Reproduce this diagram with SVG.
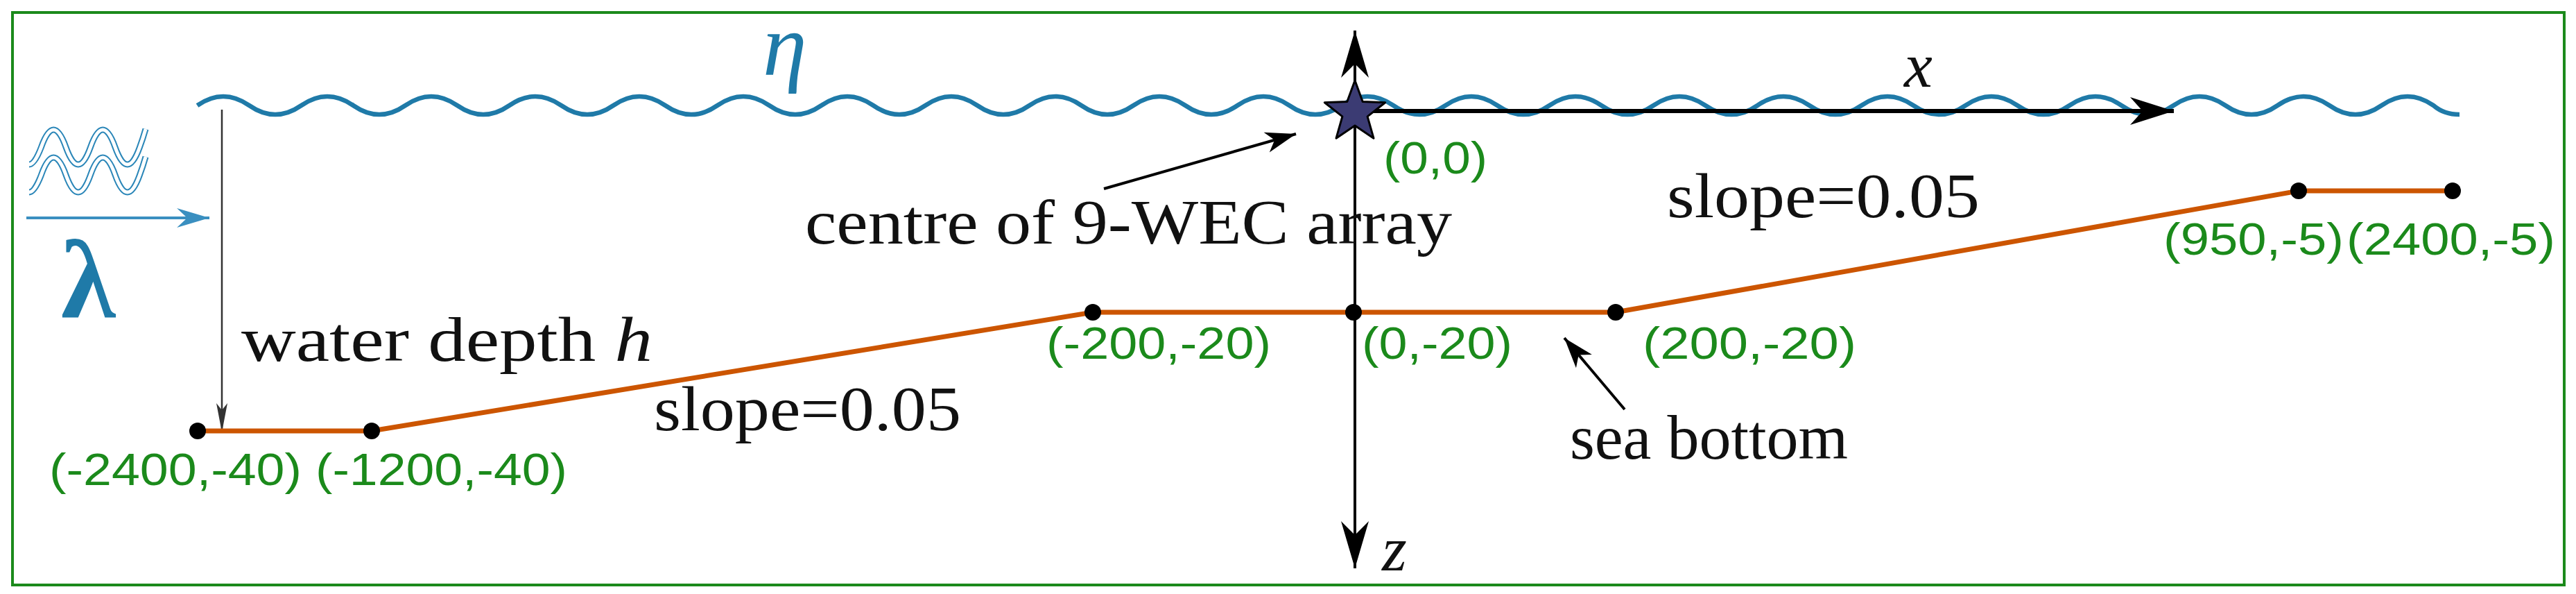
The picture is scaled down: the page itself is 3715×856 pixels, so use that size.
<svg xmlns="http://www.w3.org/2000/svg" width="3715" height="856" viewBox="0 0 3715 856">
<style>
.blk{font-family:"Liberation Serif","DejaVu Serif",serif;font-size:92px;fill:#111}
.it{font-style:italic}
.grn{font-family:"Liberation Sans","DejaVu Sans",sans-serif;font-size:64px;fill:#1b8a1b}
.dot{fill:#000}
</style>
<defs>
<marker id="axh" markerUnits="userSpaceOnUse" markerWidth="80" markerHeight="50" viewBox="-70 -25 72 50" refX="0" refY="0" orient="auto-start-reverse"><path d="M0,0 L-68,-20 L-48,0 L-68,20 Z" fill="#000"/></marker>
<marker id="xh" markerUnits="userSpaceOnUse" markerWidth="80" markerHeight="50" viewBox="-70 -25 72 50" refX="0" refY="0" orient="auto"><path d="M0,0 L-63,-20 L-45,0 L-63,20 Z" fill="#000"/></marker>
<marker id="ah" markerUnits="userSpaceOnUse" markerWidth="50" markerHeight="40" viewBox="-48 -20 50 40" refX="0" refY="0" orient="auto"><path d="M0,0 L-44,-15 L-32,0 L-44,15 Z" fill="#000"/></marker>
<marker id="dh" markerUnits="userSpaceOnUse" markerWidth="50" markerHeight="30" viewBox="-48 -15 50 30" refX="0" refY="0" orient="auto"><path d="M0,0 L-42,-8 L-32,0 L-42,8 Z" fill="#333"/></marker>
<marker id="bh" markerUnits="userSpaceOnUse" markerWidth="60" markerHeight="40" viewBox="-52 -20 54 40" refX="0" refY="0" orient="auto"><path d="M0,0 L-47,-14 L-32,0 L-47,14 Z" fill="#3a8fc0"/></marker>
</defs>
<rect x="0" y="0" width="3715" height="856" fill="#fff"/>
<rect x="18" y="18" width="3680" height="825" fill="none" stroke="#1b8a1b" stroke-width="4"/>

<g id="surface">
<path d="M284.5 152 q37.5 -26 75 0 t75 0 t75 0 t75 0 t75 0 t75 0 t75 0 t75 0 t75 0 t75 0 t75 0 t75 0 t75 0 t75 0 t75 0 t75 0 t75 0 t75 0 t75 0 t75 0 t75 0 t75 0 t75 0 t75 0 t75 0 t75 0 t75 0 t75 0 t75 0 t75 0 t75 0 t75 0 t75 0 t75 0 t75 0 t75 0 t75 0 t75 0 t75 0 t75 0 t75 0 t75 0 t75 0 q15 13 37.5 13" fill="none" stroke="#1f7aa8" stroke-width="6.5"/>
<text x="1100" y="108" font-family="Liberation Serif, DejaVu Serif, serif" font-style="italic" font-size="128" fill="#1f7aa8">η</text>
</g>

<g id="wave-icon">
<path d="M42 237 Q50 237 59.5 212 q17.75 -50 35.5 0 t35.5 0 t35.5 0 t35.5 0 Q206 200 210 186" fill="none" stroke="#2a86b8" stroke-width="9"/>
<path d="M42 237 Q50 237 59.5 212 q17.75 -50 35.5 0 t35.5 0 t35.5 0 t35.5 0 Q206 200 210 186" fill="none" stroke="#fff" stroke-width="5"/>
<path d="M42 277 Q50 277 59.5 252 q17.75 -50 35.5 0 t35.5 0 t35.5 0 t35.5 0 Q206 240 210 226" fill="none" stroke="#2a86b8" stroke-width="9"/>
<path d="M42 277 Q50 277 59.5 252 q17.75 -50 35.5 0 t35.5 0 t35.5 0 t35.5 0 Q206 240 210 226" fill="none" stroke="#fff" stroke-width="5"/>
<text x="88" y="457" font-family="Liberation Serif, DejaVu Serif, serif" font-weight="bold" font-size="160" fill="#1f7aa8">λ</text>
</g>

<g id="connectors">
<line x1="38" y1="314" x2="302" y2="314" stroke="#3a8fc0" stroke-width="4" marker-end="url(#bh)"/>
<line x1="320" y1="158" x2="320" y2="623" stroke="#333" stroke-width="2.5" marker-end="url(#dh)"/>
<line x1="1954" y1="44" x2="1954" y2="819" stroke="#000" stroke-width="4" marker-start="url(#axh)" marker-end="url(#axh)"/>
<line x1="1954" y1="160" x2="3135" y2="160" stroke="#000" stroke-width="6" marker-end="url(#xh)"/>
<line x1="1592" y1="272" x2="1869" y2="193" stroke="#000" stroke-width="4" marker-end="url(#ah)"/>
<line x1="2343" y1="590" x2="2256" y2="487" stroke="#000" stroke-width="4" marker-end="url(#ah)"/>
</g>

<g id="seabed">
<polyline points="285,621 536,621 1576,450 1952,450 2330,450 3315,275 3537,275" fill="none" stroke="#cc5500" stroke-width="7"/>
<circle class="dot" cx="285" cy="621" r="12"/>
<circle class="dot" cx="536" cy="621" r="12"/>
<circle class="dot" cx="1576" cy="450" r="12"/>
<circle class="dot" cx="1952" cy="450" r="12"/>
<circle class="dot" cx="2330" cy="450" r="12"/>
<circle class="dot" cx="3315" cy="275" r="12"/>
<circle class="dot" cx="3537" cy="275" r="12"/>
</g>

<g id="origin-star">
<polygon points="1954,116 1965.2,146.6 1997.7,147.8 1972.1,167.9 1981,199.2 1954,181 1927,199.2 1935.9,167.9 1910.3,147.8 1942.8,146.6" fill="#3b3b73" stroke="#000" stroke-width="3" stroke-linejoin="round"/>
</g>

<g id="labels">
<text class="blk" x="348" y="520" textLength="593" lengthAdjust="spacingAndGlyphs">water depth <tspan class="it">h</tspan></text>
<text class="blk" x="1161" y="351" textLength="933" lengthAdjust="spacingAndGlyphs">centre of 9-WEC array</text>
<text class="blk" x="943" y="620" textLength="443" lengthAdjust="spacingAndGlyphs">slope=0.05</text>
<text class="blk" x="2404" y="313" textLength="451" lengthAdjust="spacingAndGlyphs">slope=0.05</text>
<text class="blk" x="2264" y="661" textLength="401" lengthAdjust="spacingAndGlyphs">sea bottom</text>
<text class="blk it" x="2746" y="125" font-size="110">x</text>
<text class="blk it" x="1993" y="822" font-size="110">z</text>
<text class="grn" x="71" y="699" textLength="364" lengthAdjust="spacingAndGlyphs">(-2400,-40)</text>
<text class="grn" x="455" y="699" textLength="363" lengthAdjust="spacingAndGlyphs">(-1200,-40)</text>
<text class="grn" x="1509" y="517" textLength="324" lengthAdjust="spacingAndGlyphs">(-200,-20)</text>
<text class="grn" x="1964" y="517" textLength="217" lengthAdjust="spacingAndGlyphs">(0,-20)</text>
<text class="grn" x="2369" y="517" textLength="308" lengthAdjust="spacingAndGlyphs">(200,-20)</text>
<text class="grn" x="1995" y="250" textLength="150" lengthAdjust="spacingAndGlyphs">(0,0)</text>
<text class="grn" x="3120" y="367" textLength="260" lengthAdjust="spacingAndGlyphs">(950,-5)</text>
<text class="grn" x="3384" y="367" textLength="301" lengthAdjust="spacingAndGlyphs">(2400,-5)</text>
</g>
</svg>
